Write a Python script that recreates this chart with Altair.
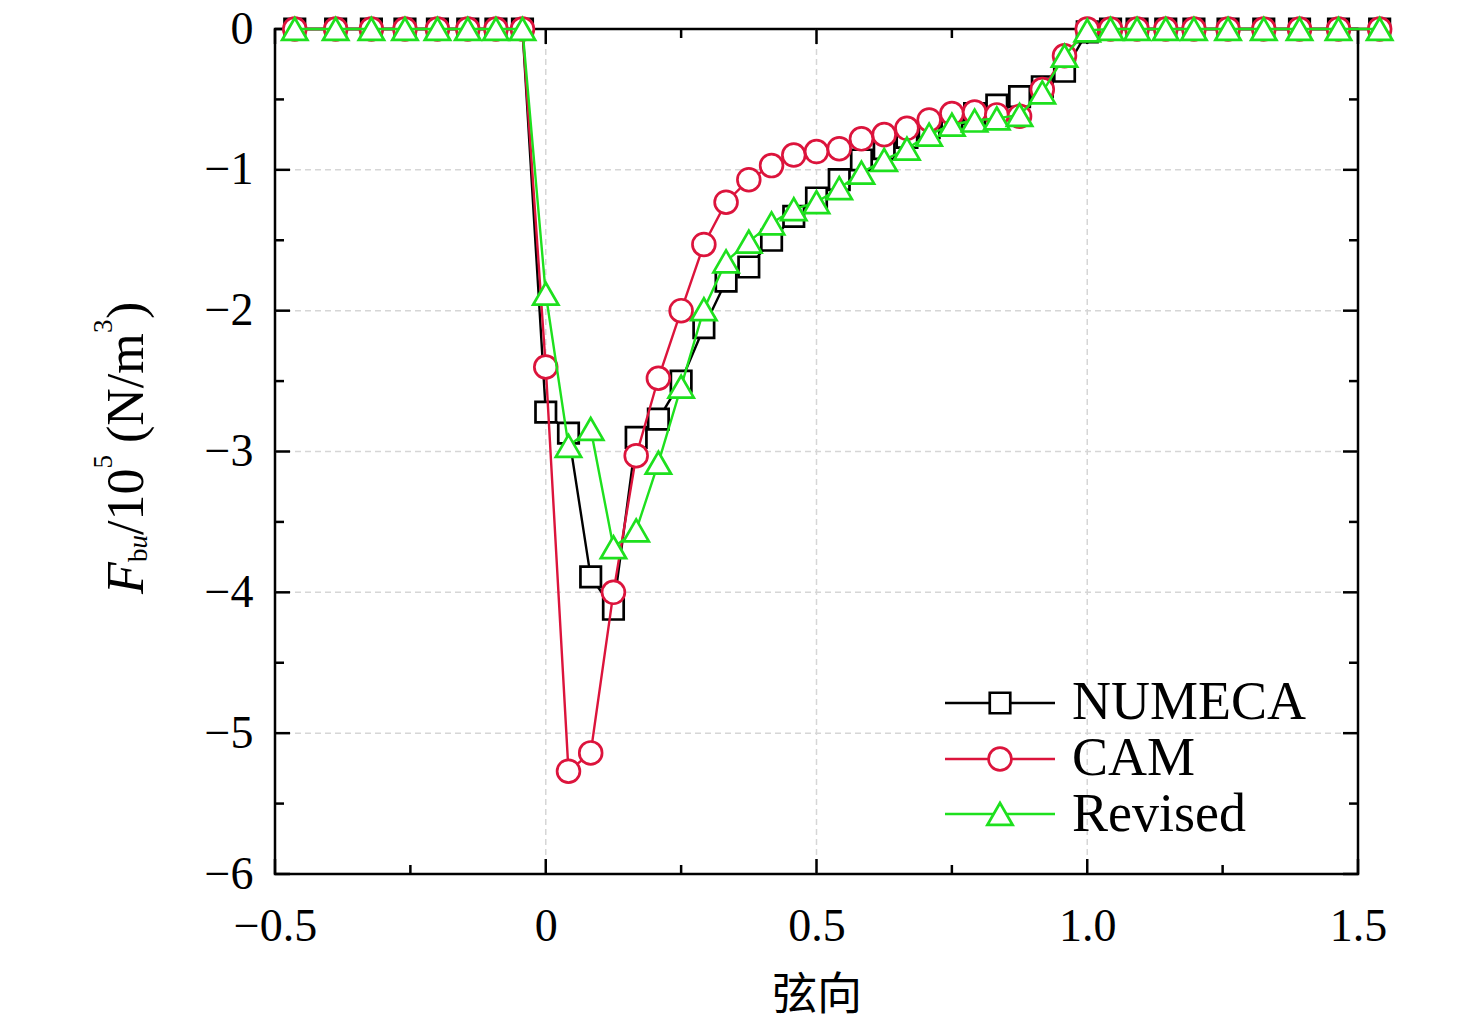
import altair as alt
import pandas as pd

# ---------------- data ----------------
x_left = [-0.4635, -0.388, -0.322, -0.260, -0.200, -0.144, -0.092, -0.043]
x_blade = [0.0, 0.042, 0.083, 0.125, 0.167, 0.208, 0.25, 0.292, 0.333, 0.375,
           0.417, 0.458, 0.5, 0.542, 0.583, 0.625, 0.667, 0.708, 0.75, 0.792,
           0.833, 0.875, 0.917, 0.958, 1.0]
x_right = [1.043, 1.092, 1.145, 1.197, 1.26, 1.326, 1.392, 1.464, 1.54]

zeros_left = [0, 0, 0, 0, 0, 0, 0, 0]
zeros_right = [0, 0, 0, 0, 0, 0, 0, 0, 0]

numeca_blade = [-2.72, -2.87, -3.89, -4.12, -2.90, -2.77, -2.50, -2.12, -1.79, -1.69,
                -1.50, -1.33, -1.20, -1.07, -0.93, -0.85, -0.77, -0.70, -0.65, -0.60,
                -0.54, -0.48, -0.41, -0.30, -0.02]
cam_blade = [-2.40, -5.27, -5.14, -4.00, -3.03, -2.48, -2.00, -1.53, -1.23, -1.07,
             -0.97, -0.895, -0.87, -0.85, -0.78, -0.75, -0.705, -0.646, -0.60, -0.59,
             -0.61, -0.62, -0.43, -0.19, 0.0]
revised_blade = [-1.88, -2.96, -2.84, -3.68, -3.56, -3.08, -2.54, -1.99, -1.65, -1.51,
                 -1.38, -1.28, -1.23, -1.13, -1.02, -0.93, -0.85, -0.75, -0.68, -0.65,
                 -0.635, -0.61, -0.45, -0.19, -0.01]

series_names = ["NUMECA", "CAM", "Revised"]
series_colors = ["#000000", "#DC143C", "#1EE01E"]
series_shapes = ["square", "circle", "triangle-up"]
series_sizes = [420, 520, 640]
blades = [numeca_blade, cam_blade, revised_blade]

x_major = [-0.5, 0, 0.5, 1.0, 1.5]
x_minor = [-0.25, 0.25, 0.75, 1.25]
y_major = [0, -1, -2, -3, -4, -5, -6]
y_minor = [-0.5, -1.5, -2.5, -3.5, -4.5, -5.5]
x_grid = [0, 0.5, 1.0]
y_grid = [-1, -2, -3, -4, -5]

# ---------------- layout ----------------
W, H = 1083, 845
SERIF = "Liberation Serif"

xscale = alt.Scale(domain=[-0.5, 1.5], nice=False, zero=False)
yscale = alt.Scale(domain=[-6, 0], nice=False, zero=False)

x_axis = alt.Axis(values=x_major,
                  labelExpr="datum.value == 0 ? '0' : format(datum.value, '.1f')",
                  ticks=False, tickSize=0, domain=False, grid=False,
                  labelFont=SERIF, labelFontSize=46, labelColor="black",
                  labelPadding=30, labelFlush=False, labelOverlap=False,
                  title="弦向", titleFont="Noto Sans CJK SC", titleFontSize=45,
                  titleFontWeight="normal", titleColor="black",
                  titleY=121, titleBaseline="middle")
y_axis = alt.Axis(values=y_major, format="d",
                  ticks=False, tickSize=0, domain=False, grid=False,
                  labelFont=SERIF, labelFontSize=46, labelColor="black",
                  labelPadding=22, labelFlush=False, labelOverlap=False,
                  title="")


def X(field):
    return alt.X(field, type="quantitative", scale=xscale, axis=x_axis)


def Y(field):
    return alt.Y(field, type="quantitative", scale=yscale, axis=y_axis)


layers = []

# grid
layers.append(
    alt.Chart(pd.DataFrame({"v": x_grid})).mark_rule(
        color="#D6D6D6", strokeWidth=1.5, strokeDash=[6, 4]
    ).encode(x=X("v"), y=alt.value(0), y2=alt.value(H))
)
layers.append(
    alt.Chart(pd.DataFrame({"v": y_grid})).mark_rule(
        color="#D6D6D6", strokeWidth=1.5, strokeDash=[6, 4]
    ).encode(y=Y("v"), x=alt.value(0), x2=alt.value(W))
)

# inward ticks on all four sides
for vals, length in ((x_major, 15), (x_minor, 9)):
    df = pd.DataFrame({"v": vals})
    layers.append(alt.Chart(df).mark_rule(color="black", strokeWidth=2.5).encode(
        x=X("v"), y=alt.value(H), y2=alt.value(H - length)))
    layers.append(alt.Chart(df).mark_rule(color="black", strokeWidth=2.5).encode(
        x=X("v"), y=alt.value(0), y2=alt.value(length)))
for vals, length in ((y_major, 15), (y_minor, 9)):
    df = pd.DataFrame({"v": vals})
    layers.append(alt.Chart(df).mark_rule(color="black", strokeWidth=2.5).encode(
        y=Y("v"), x=alt.value(0), x2=alt.value(length)))
    layers.append(alt.Chart(df).mark_rule(color="black", strokeWidth=2.5).encode(
        y=Y("v"), x=alt.value(W), x2=alt.value(W - length)))

# series
for name, color, shape, size, blade in zip(series_names, series_colors,
                                            series_shapes, series_sizes, blades):
    df = pd.DataFrame({
        "x": x_left + x_blade + x_right,
        "y": zeros_left + blade + zeros_right,
        "order": list(range(len(x_left) + len(x_blade) + len(x_right))),
    })
    layers.append(alt.Chart(df).mark_line(color=color, strokeWidth=2.4).encode(
        x=X("x"), y=Y("y"), order="order:Q"))
    layers.append(alt.Chart(df).mark_point(
        shape=shape, size=size, filled=True, fill="white", stroke=color,
        strokeWidth=2.7, opacity=1
    ).encode(x=X("x"), y=Y("y")))

# legend (drawn by hand)
legend_rows_y = [674, 730, 785]
legend_text_y = [690, 746, 802]
for name, color, shape, size, ry, ty in zip(series_names, series_colors, series_shapes,
                                            series_sizes, legend_rows_y, legend_text_y):
    df = pd.DataFrame({"s": [name]})
    layers.append(alt.Chart(df).mark_rule(color=color, strokeWidth=2.5).encode(
        x=alt.value(670), x2=alt.value(780), y=alt.value(ry)))
    layers.append(alt.Chart(df).mark_point(
        shape=shape, size=size, filled=True, fill="white", stroke=color,
        strokeWidth=2.7, opacity=1
    ).encode(x=alt.value(725), y=alt.value(ry)))
    layers.append(alt.Chart(df).mark_text(
        font=SERIF, fontSize=54, color="black", align="left", baseline="alphabetic"
    ).encode(text="s:N", x=alt.value(797), y=alt.value(ty)))


# composite y-axis title: F_bu / 10^5 (N/m^3)
def title_piece(txt, size, italic, xpos, ypos):
    kw = dict(font=SERIF, fontSize=size, color="black", align="left",
              baseline="alphabetic", angle=270)
    if italic:
        kw["fontStyle"] = "italic"
    return alt.Chart(pd.DataFrame({"t": [txt]})).mark_text(**kw).encode(
        text="t:N", x=alt.value(xpos), y=alt.value(ypos))


MAIN, SMALL = 52, 27
BASE, SUB, SUP = -132, -128, -163
layers.append(title_piece("F", MAIN, True, BASE, 565))
layers.append(title_piece("b", SMALL, False, SUB, 533))
layers.append(title_piece("u", SMALL, True, SUB, 519.5))
layers.append(title_piece("/10", MAIN, False, BASE, 506))
layers.append(title_piece("5", SMALL, False, SUP, 439.5))
layers.append(title_piece("(N/m", MAIN, False, BASE, 414))
layers.append(title_piece("3", SMALL, False, SUP, 304))
layers.append(title_piece(")", MAIN, False, BASE, 290))

chart = alt.layer(*layers).properties(
    width=W, height=H,
    autosize=alt.AutoSizeParams(type="none"),
    padding={"left": 267, "top": 21, "right": 110, "bottom": 150},
    background="white",
).configure_view(stroke="black", strokeWidth=2.5)

chart.save("out.html", embed_options={"renderer": "svg", "actions": False})
